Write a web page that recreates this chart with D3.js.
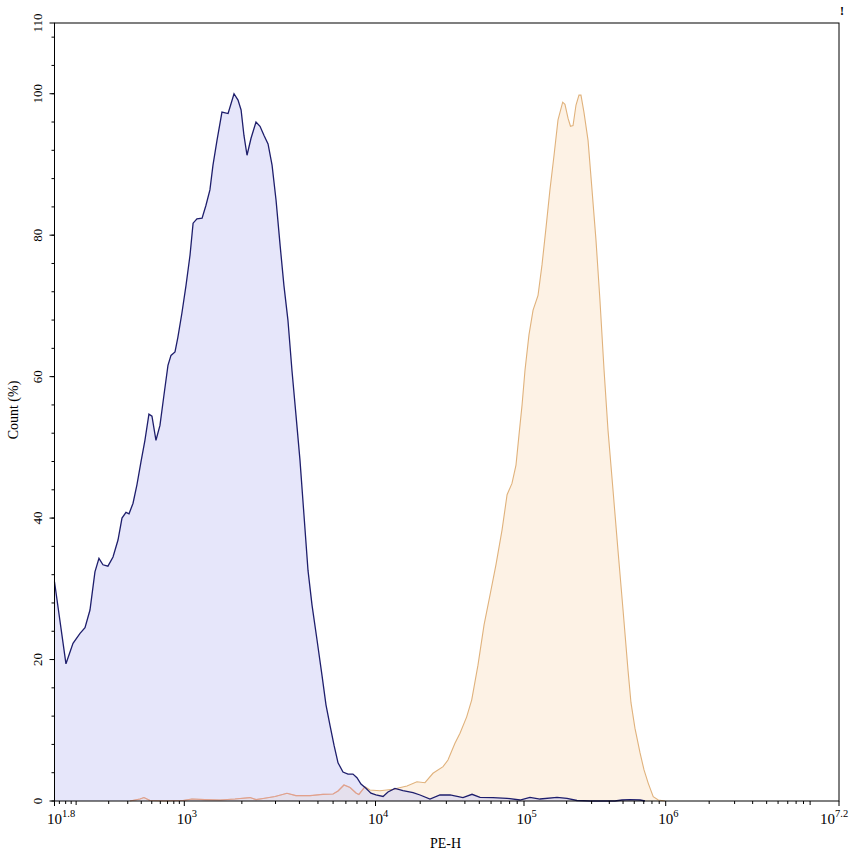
<!DOCTYPE html>
<html><head><meta charset="utf-8">
<script src="https://cdn.jsdelivr.net/npm/d3@7"></script>
<style>body{margin:0;background:#fff}</style></head><body>
<svg id="c" width="853" height="856"></svg>
<script>
// log10(PE-H) and Count (%) for each histogram
const blueLogPE=[1.800,1.906,1.971,2.036,2.082,2.128,2.174,2.211,2.248,2.294,2.341,2.387,2.424,2.461,2.489,2.526,2.562,2.599,2.636,2.673,2.701,2.738,2.775,2.812,2.849,2.877,2.914,2.941,2.978,3.009,3.030,3.046,3.066,3.093,3.113,3.134,3.150,3.171,3.197,3.229,3.260,3.281,3.297,3.312,3.328,3.349,3.375,3.396,3.417,3.438,3.459,3.480,3.501,3.521,3.542,3.563,3.584,3.605,3.626,3.647,3.668,3.694,3.720,3.741,3.762,3.783,3.804,3.830,3.856,3.882,3.903,3.924,3.950,3.976,4.003,4.051,4.084,4.131,4.185,4.253,4.300,4.367,4.434,4.502,4.589,4.650,4.704,4.791,4.886,4.973,5.042,5.113,5.233,5.303,5.374,5.466,5.642,5.692,5.748,5.819,5.854];
const blueCount=[31.0,19.4,22.3,23.7,24.5,27.0,32.4,34.3,33.4,33.2,34.5,36.9,40.0,40.8,40.6,42.1,44.7,47.9,51.0,54.7,54.4,51.0,53.1,57.4,61.6,63.0,63.5,65.6,69.0,72.9,77.2,81.7,82.3,82.4,84.2,86.4,89.9,93.4,97.4,97.2,100.0,99.1,97.7,94.1,91.3,93.7,96.0,95.4,94.1,92.9,89.9,84.9,78.6,72.9,68.0,60.9,54.6,48.2,40.4,32.6,27.7,22.8,17.8,13.6,10.7,7.9,5.4,4.1,3.8,3.8,3.3,2.4,1.8,1.1,0.85,0.64,1.27,1.77,1.48,1.2,0.85,0.28,0.85,0.85,0.47,0.95,0.52,0.47,0.38,0.14,0.52,0.28,0.52,0.38,0.07,0,0,0.14,0.2,0.14,0];
const orangeLogPE=[2.498,2.590,2.627,2.683,2.821,2.988,3.040,3.108,3.187,3.265,3.344,3.375,3.412,3.475,3.537,3.584,3.658,3.725,3.778,3.804,3.835,3.867,3.898,3.913,3.945,3.971,4.030,4.118,4.212,4.279,4.333,4.387,4.455,4.488,4.535,4.569,4.614,4.648,4.690,4.731,4.771,4.811,4.852,4.886,4.919,4.946,4.966,4.987,5.007,5.035,5.064,5.099,5.127,5.155,5.183,5.212,5.240,5.273,5.289,5.311,5.328,5.346,5.367,5.388,5.402,5.423,5.452,5.480,5.508,5.536,5.565,5.593,5.628,5.663,5.699,5.734,5.755,5.783,5.819,5.847,5.877,5.912,5.948,5.995];
const orangeCount=[0,0.28,0.49,0.07,0,0.07,0.28,0.2,0.14,0.28,0.49,0.2,0.35,0.64,1.09,0.75,0.75,0.95,0.99,1.41,2.26,1.91,1.13,0.92,2.02,1.55,1.46,1.65,2.12,2.73,2.59,3.92,4.85,5.80,8.16,9.57,11.9,14.3,19.2,24.9,29.1,33.4,38.3,43.3,44.9,47.5,51.7,56.0,60.9,65.9,69.4,71.5,75.8,81.0,86.4,91.3,96.3,98.8,98.5,96.5,95.4,95.5,98.4,99.8,99.8,97.4,93.4,86.4,79.3,70.8,60.9,52.4,44.0,35.5,27.0,18.5,13.9,10.3,6.8,4.4,2.5,0.6,0.14,0];

const xMajorExp=[1.8,3,4,5,6,7.2];
const xMajorLabels=["1.8","3","4","5","6","7.2"];
const yMajor=[0,20,40,60,80,100,110];
const yLabels=["0","20","40","60","80","100","110"];
const xTitle="PE-H", yTitle="Count  (%)";

const svg=d3.select("#c");
const L=54.5,R=839,T=23,B=801;
const x=d3.scaleLinear().domain([1.8,3,4,5,6,7.2]).range([54.5,184.3,375.5,524,665.7,839]);
const y=d3.scaleLinear().domain([0,110]).range([B,T]);
const font="'Liberation Serif','DejaVu Serif',serif";

const zipData=(a,b)=>a.slice(0,Math.min(a.length,b.length)).map((v,i)=>[v,b[i]]);
const blue=zipData(blueLogPE,blueCount), orange=zipData(orangeLogPE,orangeCount);
const area=d3.area().x(d=>x(d[0])).y0(y(0)).y1(d=>y(d[1]));
const line=d3.line().x(d=>x(d[0])).y(d=>y(d[1]));

svg.append("defs").append("clipPath").attr("id","blueClip").append("path").attr("d",area(blue));

svg.append("path").attr("d",area(orange)).attr("fill","#fdf2e5");
svg.append("path").attr("d",line(orange)).attr("fill","none").attr("stroke","#e0b27c").attr("stroke-width",1.1);
svg.append("path").attr("d",area(blue)).attr("fill","rgb(205,205,246)").attr("fill-opacity",0.5);
svg.append("path").attr("d",line(orange)).attr("clip-path","url(#blueClip)").attr("fill","none")
  .attr("stroke","#e2a08c").attr("stroke-width",1.2);
svg.append("path").attr("d",line(blue)).attr("fill","none").attr("stroke","#1e1e6c").attr("stroke-width",1.3);

// frame
svg.append("rect").attr("x",L).attr("y",T).attr("width",R-L).attr("height",B-T)
  .attr("fill","none").attr("stroke","#000").attr("stroke-width",1);

// y ticks
const yMinor=d3.range(0,110,4);
const gy=svg.append("g");
gy.selectAll("line.mi").data(yMinor).join("line").attr("x1",L-3).attr("x2",L)
  .attr("y1",d=>y(d)).attr("y2",d=>y(d)).attr("stroke","#000");
gy.selectAll("line.ma").data(yMajor).join("line").attr("x1",L-5).attr("x2",L)
  .attr("y1",d=>y(d)).attr("y2",d=>y(d)).attr("stroke","#000");
gy.selectAll("text").data(yMajor).join("text")
  .attr("transform",d=>`translate(${L-13},${y(d)}) rotate(-90)`)
  .attr("text-anchor","middle").attr("font-family",font).attr("font-size",13)
  .text((d,i)=>yLabels[i]);

// x ticks
const xMinor=[];
for(let k=1;k<=7;k++) for(let m=2;m<=9;m++){const e=k+Math.log10(m); if(e>1.8&&e<7.2) xMinor.push(e);}
const gx=svg.append("g");
gx.selectAll("line.mi").data(xMinor).join("line").attr("x1",d=>x(d)).attr("x2",d=>x(d))
  .attr("y1",B).attr("y2",B+3).attr("stroke","#000");
gx.selectAll("line.mm").data([2,7]).join("line").attr("x1",d=>x(d)).attr("x2",d=>x(d))
  .attr("y1",B).attr("y2",B+4).attr("stroke","#000");
gx.selectAll("line.ma").data(xMajorExp).join("line").attr("x1",d=>x(d)).attr("x2",d=>x(d))
  .attr("y1",B).attr("y2",B+5).attr("stroke","#000");
xMajorExp.forEach((e,i)=>{
  const px=x(e);
  const t=gx.append("text").attr("x",i===xMajorExp.length-1?px-19:px-7.5).attr("y",824)
    .attr("font-family",font).attr("font-size",15);
  t.append("tspan").text("10");
  t.append("tspan").attr("dy",-7).attr("font-size",10.5).text(xMajorLabels[i]);
});

// titles
svg.append("text").attr("x",430).attr("y",848).attr("font-family",font).attr("font-size",14).text(xTitle);
svg.append("text").attr("transform","translate(18,410) rotate(-90)").attr("text-anchor","middle")
  .attr("font-family",font).attr("font-size",14).text(yTitle);
svg.append("text").attr("x",842).attr("y",15).attr("text-anchor","middle").attr("font-family",font)
  .attr("font-weight","bold").attr("font-size",12).text("!");
</script>
</body></html>
